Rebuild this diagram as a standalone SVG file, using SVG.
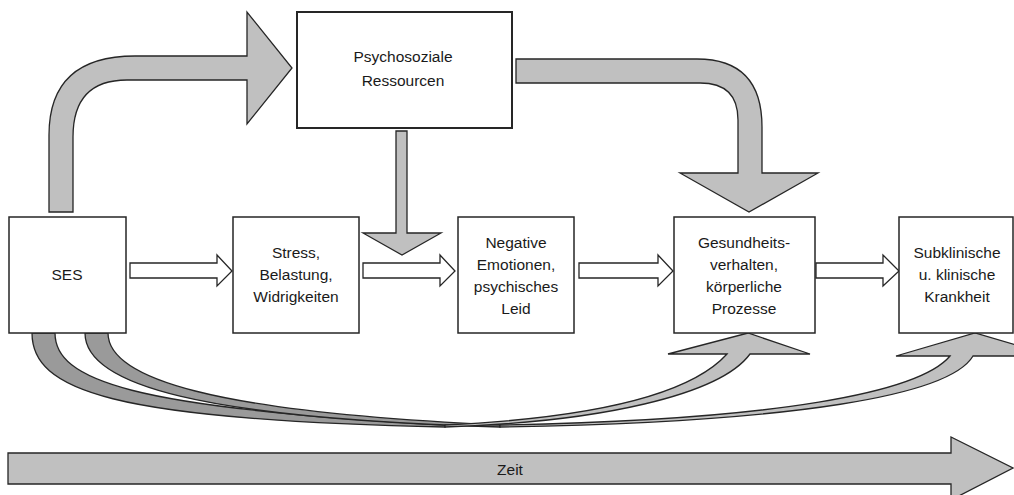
<svg xmlns="http://www.w3.org/2000/svg" width="1014" height="495" viewBox="0 0 1014 495">
<style>
.box{fill:#fff;stroke:#262626;stroke-width:1.5}
.lt{fill:#c0c0c0;stroke:#262626;stroke-width:1.3;stroke-linejoin:miter}
.dk{fill:#9a9a9a;stroke:#262626;stroke-width:1.3}
.wa{fill:#fff;stroke:#262626;stroke-width:1.3}
text{font-family:"Liberation Sans",Arial,sans-serif;font-size:15.5px;fill:#1a1a1a;text-anchor:middle}
</style>
<rect width="1014" height="495" fill="#fff"/>
<g id="connectors">
  <path class="lt" d="M49,212 L49,135 Q49,56 135,56 L247,56 L247,12 L292,68 L247,124 L247,80 L127,80 Q73,80 73,137 L73,212 Z"/>
  <path class="lt" d="M516,59 L697,59 Q762,59 762,127 L762,173 L818,173 L749,212 L680,173 L738,173 L738,120 Q738,83 700,83 L516,83 Z"/>
  <path class="lt" d="M396,131 L407,131 L407,233 L441,233 L402,255 L363,233 L396,233 Z"/>
  <path class="wa" d="M130,263 L217,263 L217,255 L232,271 L217,286 L217,278 L130,278 Z"/>
  <path class="wa" d="M363,263 L440,263 L440,255 L455,271 L440,286 L440,278 L363,278 Z"/>
  <path class="wa" d="M579,263 L658,263 L658,255 L673,271 L658,286 L658,278 L579,278 Z"/>
  <path class="wa" d="M816,263 L883,263 L883,255 L899,271 L883,286 L883,278 L816,278 Z"/>
  <path class="dk" d="M32,333 C32,390 110,420 445,427 L445,425 C130,408 55,380 55,333 Z"/>
  <path class="dk" d="M85,333 C85,385 200,418 500,427 L500,425 C210,412 108,378 108,333 Z"/>
  <path class="lt" d="M445,427 C600,422 720,395 750,354 L810,354 L748,333 L668,354 L727,354 C690,395 590,418 445,425 Z"/>
  <path class="lt" d="M500,427 C800,422 950,395 973,356 L1054,356 L975,333 L896,356 L950,356 C920,392 780,420 500,425 Z"/>
  <path class="lt" d="M8,453 L951,453 L951,437 L1013,468 L951,500 L951,484 L8,484 Z"/>
  <text x="510" y="475">Zeit</text>
</g>
<g id="node-psycho">
  <rect class="box" x="297" y="12" width="215" height="116" style="stroke-width:2"/>
  <text x="403" y="62">Psychosoziale</text>
  <text x="403" y="86">Ressourcen</text>
</g>
<g id="node-ses">
  <rect class="box" x="9" y="217" width="117" height="116"/>
  <text x="67" y="280">SES</text>
</g>
<g id="node-stress">
  <rect class="box" x="233" y="217" width="126" height="116"/>
  <text x="296" y="258">Stress,</text>
  <text x="296" y="280">Belastung,</text>
  <text x="296" y="302">Widrigkeiten</text>
</g>
<g id="node-negative">
  <rect class="box" x="458" y="217" width="116" height="116"/>
  <text x="516" y="248">Negative</text>
  <text x="516" y="270">Emotionen,</text>
  <text x="516" y="292">psychisches</text>
  <text x="516" y="314">Leid</text>
</g>
<g id="node-gesundheit">
  <rect class="box" x="674" y="217" width="141" height="116"/>
  <text x="744" y="248">Gesundheits-</text>
  <text x="744" y="270">verhalten,</text>
  <text x="744" y="292">körperliche</text>
  <text x="744" y="314">Prozesse</text>
</g>
<g id="node-krankheit">
  <rect class="box" x="899" y="217" width="114" height="116"/>
  <text x="957" y="258">Subklinische</text>
  <text x="957" y="280">u. klinische</text>
  <text x="957" y="302">Krankheit</text>
</g>
</svg>
